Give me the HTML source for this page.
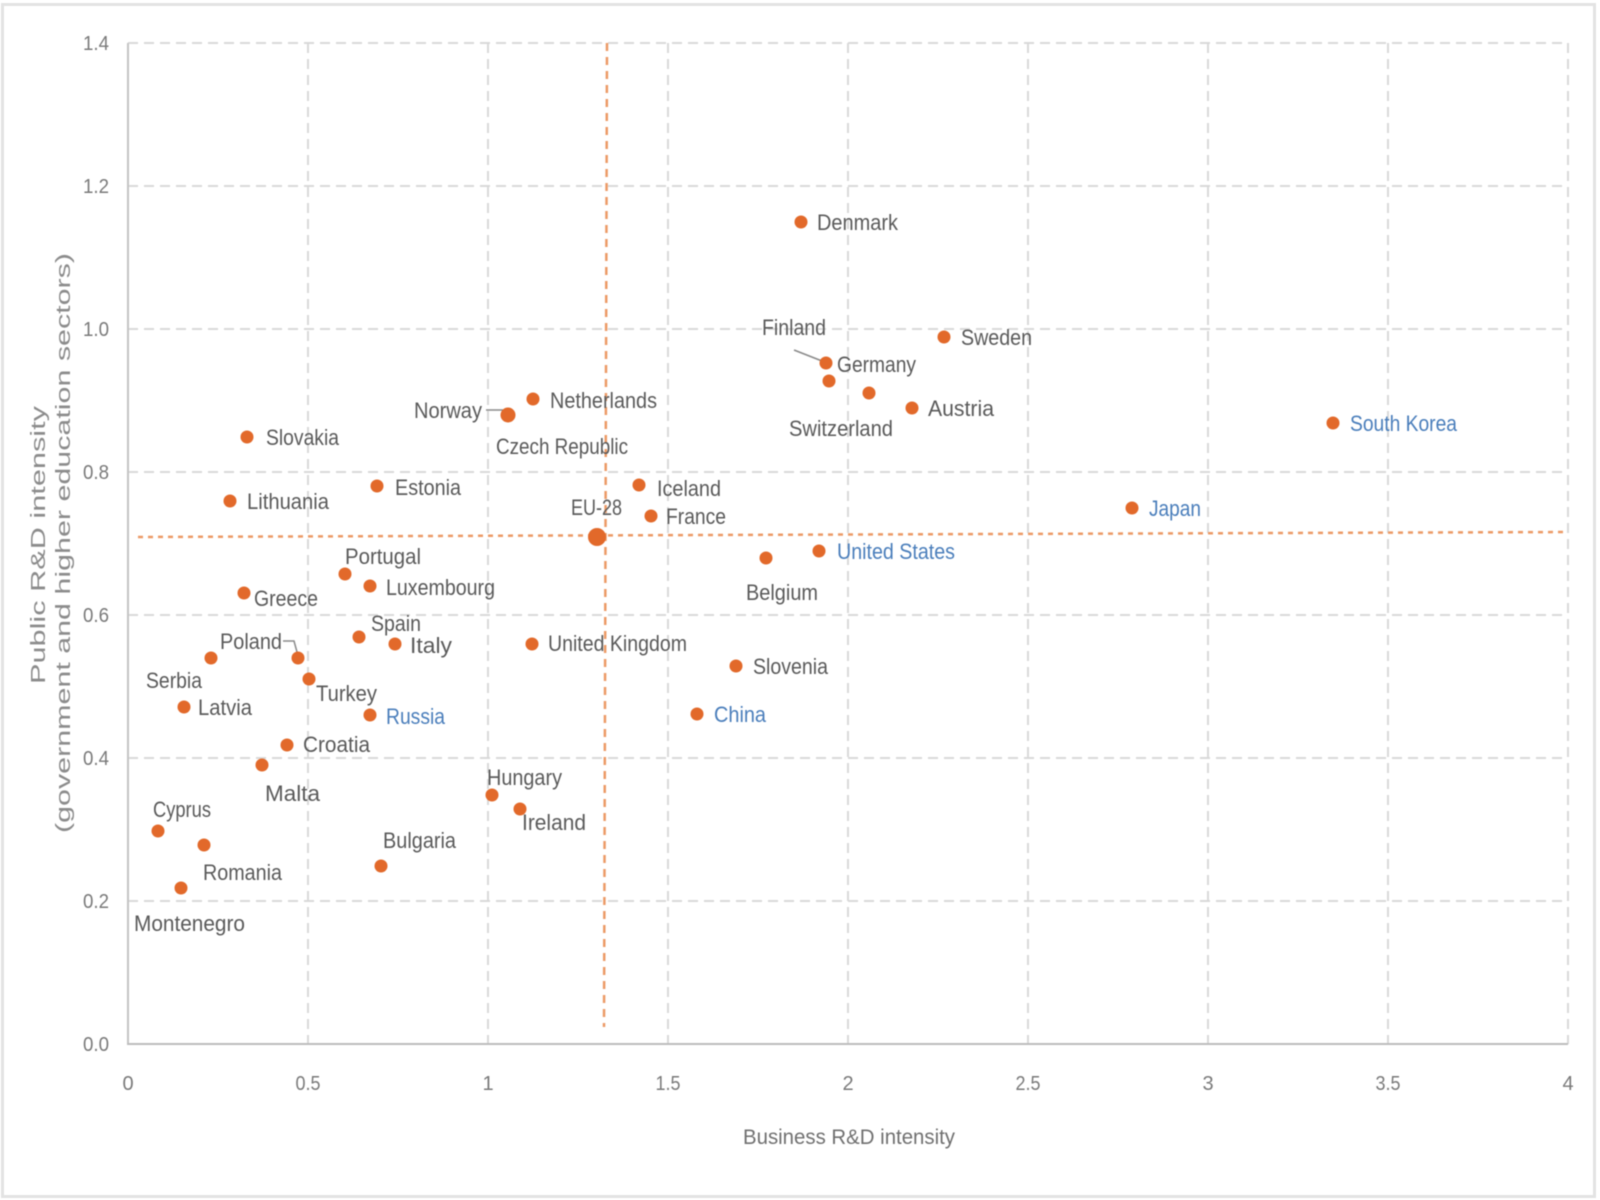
<!DOCTYPE html>
<html>
<head>
<meta charset="utf-8">
<style>
  html, body { margin:0; padding:0; background:#ffffff; }
  body { width:1600px; height:1200px; overflow:hidden; }
  svg { display:block; filter: blur(0.55px); }
  .lbl { font-family:"Liberation Sans", Arial, sans-serif; font-size:22px; fill:#5a5a5a; }
  .blue { fill:#4a7ebb; }
  .tick { font-family:"Liberation Sans", Arial, sans-serif; font-size:20px; fill:#7a7a7a; }
  .ttl { font-family:"Liberation Sans", Arial, sans-serif; font-size:21px; fill:#707070; }
  .ytl { font-family:"Liberation Sans", Arial, sans-serif; font-size:20px; fill:#8c8c8c; }
</style>
</head>
<body>
<svg width="1600" height="1200" viewBox="0 0 1600 1200" xmlns="http://www.w3.org/2000/svg">
  <rect x="0" y="0" width="1600" height="1200" fill="#ffffff"/>
  <rect x="2.5" y="4.5" width="1592" height="1192" fill="none" stroke="#e3e3e3" stroke-width="3"/>

  <!-- horizontal gridlines -->
  <g stroke="#d9d9d9" stroke-width="2" stroke-dasharray="10 6" fill="none">
    <line x1="128" y1="43" x2="1568" y2="43"/>
    <line x1="128" y1="186" x2="1568" y2="186"/>
    <line x1="128" y1="329" x2="1568" y2="329"/>
    <line x1="128" y1="472" x2="1568" y2="472"/>
    <line x1="128" y1="615" x2="1568" y2="615"/>
    <line x1="128" y1="758" x2="1568" y2="758"/>
    <line x1="128" y1="901" x2="1568" y2="901"/>
  </g>
  <!-- vertical gridlines -->
  <g stroke="#d9d9d9" stroke-width="2" stroke-dasharray="10 6" fill="none">
    <line x1="308" y1="43" x2="308" y2="1044"/>
    <line x1="488" y1="43" x2="488" y2="1044"/>
    <line x1="668" y1="43" x2="668" y2="1044"/>
    <line x1="848" y1="43" x2="848" y2="1044"/>
    <line x1="1028" y1="43" x2="1028" y2="1044"/>
    <line x1="1208" y1="43" x2="1208" y2="1044"/>
    <line x1="1388" y1="43" x2="1388" y2="1044"/>
    <line x1="1568" y1="43" x2="1568" y2="1044"/>
  </g>

  <!-- axes -->
  <line x1="128" y1="43" x2="128" y2="1044" stroke="#c4c4c4" stroke-width="2"/>
  <line x1="127" y1="1044" x2="1568" y2="1044" stroke="#bdbdbd" stroke-width="2"/>

  <!-- EU-28 reference lines -->
  <line x1="138" y1="537" x2="1566" y2="532" stroke="#ec9a66" stroke-width="2.5" stroke-dasharray="5 5"/>
  <line x1="607" y1="43" x2="604" y2="1027" stroke="#ec9a66" stroke-width="2.5" stroke-dasharray="8 6"/>

  <!-- y tick labels -->
  <g class="tick" text-anchor="end">
    <text x="109" y="50" textLength="26" lengthAdjust="spacingAndGlyphs">1.4</text>
    <text x="109" y="193" textLength="26" lengthAdjust="spacingAndGlyphs">1.2</text>
    <text x="109" y="336" textLength="26" lengthAdjust="spacingAndGlyphs">1.0</text>
    <text x="109" y="479" textLength="26" lengthAdjust="spacingAndGlyphs">0.8</text>
    <text x="109" y="622" textLength="26" lengthAdjust="spacingAndGlyphs">0.6</text>
    <text x="109" y="765" textLength="26" lengthAdjust="spacingAndGlyphs">0.4</text>
    <text x="109" y="908" textLength="26" lengthAdjust="spacingAndGlyphs">0.2</text>
    <text x="109" y="1051" textLength="26" lengthAdjust="spacingAndGlyphs">0.0</text>
  </g>
  <!-- x tick labels -->
  <g class="tick" text-anchor="middle">
    <text x="128" y="1090">0</text>
    <text x="308" y="1090" textLength="25" lengthAdjust="spacingAndGlyphs">0.5</text>
    <text x="488" y="1090">1</text>
    <text x="668" y="1090" textLength="25" lengthAdjust="spacingAndGlyphs">1.5</text>
    <text x="848" y="1090">2</text>
    <text x="1028" y="1090" textLength="25" lengthAdjust="spacingAndGlyphs">2.5</text>
    <text x="1208" y="1090">3</text>
    <text x="1388" y="1090" textLength="25" lengthAdjust="spacingAndGlyphs">3.5</text>
    <text x="1568" y="1090">4</text>
  </g>

  <!-- axis titles -->
  <text class="ttl" x="743" y="1144" textLength="212" lengthAdjust="spacingAndGlyphs">Business R&amp;D intensity</text>
  <g class="ytl" text-anchor="middle">
    <text transform="translate(45,545) rotate(-90)" textLength="278" lengthAdjust="spacingAndGlyphs">Public R&amp;D intensity</text>
    <text transform="translate(70,543) rotate(-90)" textLength="580" lengthAdjust="spacingAndGlyphs">(government and higher education sectors)</text>
  </g>

  <!-- leader lines -->
  <g stroke="#8a8a8a" stroke-width="1.5" fill="none">
    <line x1="486" y1="410" x2="503" y2="410"/>
    <line x1="794" y1="350" x2="822" y2="361"/>
    <polyline points="283,641 294,641 297,652"/>
  </g>

  <!-- dots -->
  <g fill="#e2692a">
    <circle cx="247" cy="437" r="6.5"/>
    <circle cx="230" cy="501" r="6.5"/>
    <circle cx="377" cy="486" r="6.5"/>
    <circle cx="508" cy="415" r="7.5"/>
    <circle cx="533" cy="399" r="6.5"/>
    <circle cx="345" cy="574" r="6.5"/>
    <circle cx="370" cy="586" r="6.5"/>
    <circle cx="244" cy="593" r="6.5"/>
    <circle cx="359" cy="637" r="6.5"/>
    <circle cx="395" cy="644" r="6.5"/>
    <circle cx="532" cy="644" r="6.5"/>
    <circle cx="298" cy="658" r="6.5"/>
    <circle cx="211" cy="658" r="6.5"/>
    <circle cx="309" cy="679" r="6.5"/>
    <circle cx="184" cy="707" r="6.5"/>
    <circle cx="370" cy="715" r="6.5"/>
    <circle cx="287" cy="745" r="6.5"/>
    <circle cx="262" cy="765" r="6.5"/>
    <circle cx="158" cy="831" r="6.5"/>
    <circle cx="204" cy="845" r="6.5"/>
    <circle cx="181" cy="888" r="6.5"/>
    <circle cx="381" cy="866" r="6.5"/>
    <circle cx="492" cy="795" r="6.5"/>
    <circle cx="520" cy="809" r="6.5"/>
    <circle cx="801" cy="222" r="6.5"/>
    <circle cx="826" cy="363" r="6.5"/>
    <circle cx="829" cy="381" r="6.5"/>
    <circle cx="869" cy="393" r="6.5"/>
    <circle cx="912" cy="408" r="6.5"/>
    <circle cx="944" cy="337" r="6.5"/>
    <circle cx="639" cy="485" r="6.5"/>
    <circle cx="651" cy="516" r="6.5"/>
    <circle cx="597" cy="537" r="9"/>
    <circle cx="766" cy="558" r="6.5"/>
    <circle cx="819" cy="551" r="6.5"/>
    <circle cx="736" cy="666" r="6.5"/>
    <circle cx="697" cy="714" r="6.5"/>
    <circle cx="1333" cy="423" r="6.5"/>
    <circle cx="1132" cy="508" r="6.5"/>
  </g>

  <!-- labels -->
  <g class="lbl">
    <text x="266" y="445" textLength="73" lengthAdjust="spacingAndGlyphs">Slovakia</text>
    <text x="247" y="509" textLength="82" lengthAdjust="spacingAndGlyphs">Lithuania</text>
    <text x="395" y="495" textLength="66" lengthAdjust="spacingAndGlyphs">Estonia</text>
    <text x="414" y="418" textLength="68" lengthAdjust="spacingAndGlyphs">Norway</text>
    <text x="496" y="454" textLength="132" lengthAdjust="spacingAndGlyphs">Czech Republic</text>
    <text x="550" y="408" textLength="107" lengthAdjust="spacingAndGlyphs">Netherlands</text>
    <text x="345" y="564" textLength="76" lengthAdjust="spacingAndGlyphs">Portugal</text>
    <text x="386" y="595" textLength="109" lengthAdjust="spacingAndGlyphs">Luxembourg</text>
    <text x="254" y="606" textLength="64" lengthAdjust="spacingAndGlyphs">Greece</text>
    <text x="371" y="631" textLength="50" lengthAdjust="spacingAndGlyphs">Spain</text>
    <text x="410" y="653" textLength="42" lengthAdjust="spacingAndGlyphs">Italy</text>
    <text x="548" y="651" textLength="139" lengthAdjust="spacingAndGlyphs">United Kingdom</text>
    <text x="220" y="649" textLength="62" lengthAdjust="spacingAndGlyphs">Poland</text>
    <text x="146" y="688" textLength="56" lengthAdjust="spacingAndGlyphs">Serbia</text>
    <text x="316" y="701" textLength="61" lengthAdjust="spacingAndGlyphs">Turkey</text>
    <text x="198" y="715" textLength="54" lengthAdjust="spacingAndGlyphs">Latvia</text>
    <text x="303" y="752" textLength="67" lengthAdjust="spacingAndGlyphs">Croatia</text>
    <text x="265" y="801" textLength="55" lengthAdjust="spacingAndGlyphs">Malta</text>
    <text x="153" y="817" textLength="58" lengthAdjust="spacingAndGlyphs">Cyprus</text>
    <text x="203" y="880" textLength="79" lengthAdjust="spacingAndGlyphs">Romania</text>
    <text x="134" y="931" textLength="111" lengthAdjust="spacingAndGlyphs">Montenegro</text>
    <text x="383" y="848" textLength="73" lengthAdjust="spacingAndGlyphs">Bulgaria</text>
    <text x="487" y="785" textLength="75" lengthAdjust="spacingAndGlyphs">Hungary</text>
    <text x="522" y="830" textLength="64" lengthAdjust="spacingAndGlyphs">Ireland</text>
    <text x="817" y="230" textLength="81" lengthAdjust="spacingAndGlyphs">Denmark</text>
    <text x="762" y="335" textLength="64" lengthAdjust="spacingAndGlyphs">Finland</text>
    <text x="837" y="372" textLength="79" lengthAdjust="spacingAndGlyphs">Germany</text>
    <text x="789" y="436" textLength="104" lengthAdjust="spacingAndGlyphs">Switzerland</text>
    <text x="928" y="416" textLength="66" lengthAdjust="spacingAndGlyphs">Austria</text>
    <text x="961" y="345" textLength="71" lengthAdjust="spacingAndGlyphs">Sweden</text>
    <text x="657" y="496" textLength="64" lengthAdjust="spacingAndGlyphs">Iceland</text>
    <text x="666" y="524" textLength="60" lengthAdjust="spacingAndGlyphs">France</text>
    <text x="571" y="515" textLength="51" lengthAdjust="spacingAndGlyphs">EU-28</text>
    <text x="746" y="600" textLength="72" lengthAdjust="spacingAndGlyphs">Belgium</text>
    <text x="753" y="674" textLength="75" lengthAdjust="spacingAndGlyphs">Slovenia</text>
  </g>
  <g class="lbl blue">
    <text x="386" y="724" textLength="59" lengthAdjust="spacingAndGlyphs">Russia</text>
    <text x="837" y="559" textLength="118" lengthAdjust="spacingAndGlyphs">United States</text>
    <text x="714" y="722" textLength="52" lengthAdjust="spacingAndGlyphs">China</text>
    <text x="1350" y="431" textLength="107" lengthAdjust="spacingAndGlyphs">South Korea</text>
    <text x="1149" y="516" textLength="52" lengthAdjust="spacingAndGlyphs">Japan</text>
  </g>
</svg>
</body>
</html>
